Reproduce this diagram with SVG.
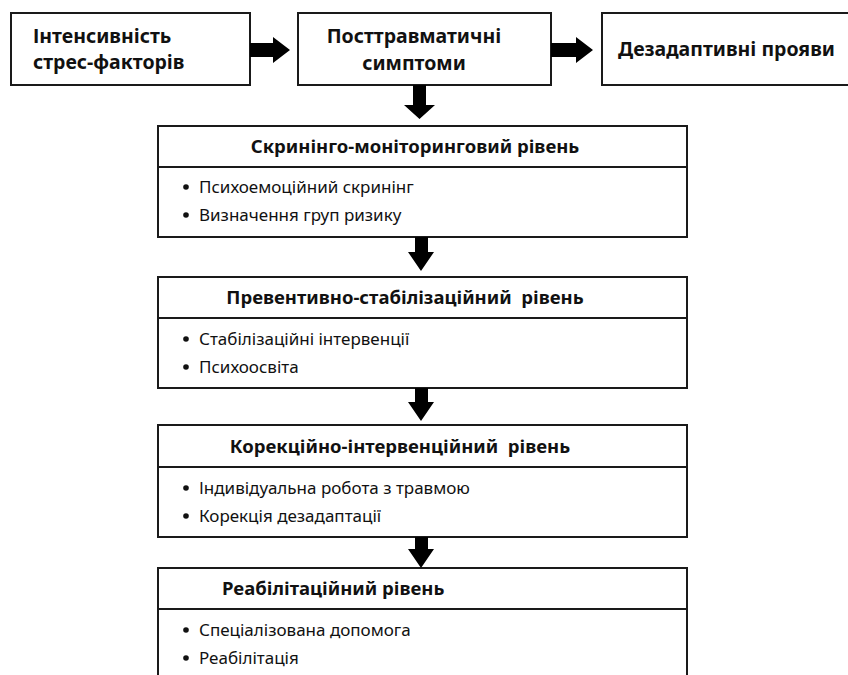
<svg xmlns="http://www.w3.org/2000/svg" width="848" height="675" viewBox="0 0 848 675">
<style>
.box{fill:#fff;stroke:#1a1a1a;stroke-width:2}
.ln{stroke:#1a1a1a;stroke-width:2}
.arr{fill:#000}
.b{fill:#111}
.top{font-family:"Noto Sans","Open Sans",sans-serif;font-weight:bold;font-size:19.5px;fill:#111}
.h{font-family:"Noto Sans","Open Sans",sans-serif;font-weight:bold;font-size:18.5px;fill:#111}
.t{font-family:"Noto Sans","Open Sans",sans-serif;font-size:17px;fill:#111}
</style>
<rect width="848" height="675" fill="#fff"/>
<g id="n1">
<rect class="box" x="11" y="13" width="239" height="72"/>
<text class="top" x="33" y="43">Інтенсивність</text>
<text class="top" x="33" y="69">стрес-факторів</text>
</g>
<g id="n2">
<rect class="box" x="298" y="13" width="253" height="72"/>
<text class="top" x="414" y="43" text-anchor="middle">Посттравматичні</text>
<text class="top" x="414" y="70" text-anchor="middle">симптоми</text>
</g>
<g id="n3">
<rect class="box" x="602" y="13" width="250" height="72"/>
<text class="top" x="618" y="56">Дезадаптивні прояви</text>
</g>
<g id="n4">
<rect class="box" x="158" y="126" width="529" height="111"/>
<line class="ln" x1="158" y1="167" x2="687" y2="167"/>
<text class="h" x="415" y="153" text-anchor="middle">Скринінго-моніторинговий рівень</text>
<circle class="b" cx="186" cy="187" r="2.8"/><text class="t" x="199" y="193">Психоемоційний скринінг</text>
<circle class="b" cx="186" cy="215" r="2.8"/><text class="t" x="199" y="221">Визначення груп ризику</text>
</g>
<g id="n5">
<rect class="box" x="158" y="277" width="529" height="111"/>
<line class="ln" x1="158" y1="318" x2="687" y2="318"/>
<text class="h" x="405" y="304" text-anchor="middle" xml:space="preserve">Превентивно-стабілізаційний  рівень</text>
<circle class="b" cx="186" cy="339" r="2.8"/><text class="t" x="199" y="345">Стабілізаційні інтервенції</text>
<circle class="b" cx="186" cy="367" r="2.8"/><text class="t" x="199" y="373">Психоосвіта</text>
</g>
<g id="n6">
<rect class="box" x="158" y="425" width="529" height="112"/>
<line class="ln" x1="158" y1="467" x2="687" y2="467"/>
<text class="h" x="400" y="453" text-anchor="middle" xml:space="preserve">Корекційно-інтервенційний  рівень</text>
<circle class="b" cx="186" cy="488" r="2.8"/><text class="t" x="199" y="494">Індивідуальна робота з травмою</text>
<circle class="b" cx="186" cy="516" r="2.8"/><text class="t" x="199" y="522">Корекція дезадаптації</text>
</g>
<g id="n7">
<rect class="box" x="158" y="568" width="529" height="120"/>
<line class="ln" x1="158" y1="609" x2="687" y2="609"/>
<text class="h" x="222" y="595">Реабілітаційний рівень</text>
<circle class="b" cx="186" cy="630" r="2.8"/><text class="t" x="199" y="636">Спеціалізована допомога</text>
<circle class="b" cx="186" cy="658" r="2.8"/><text class="t" x="199" y="664">Реабілітація</text>
</g>
<g id="connectors">
<polygon class="arr" points="250,43 273,43 273,37 290,50 273,63 273,57 250,57"/>
<polygon class="arr" points="551,43 576,43 576,37 593,50 576,63 576,57 551,57"/>
<polygon class="arr" points="413,85 426,85 426,105 435,105 419.5,119 404,105 413,105"/>
<polygon class="arr" points="415,237 428,237 428,252 434,252 421,271 408,252 415,252"/>
<polygon class="arr" points="415,388 428,388 428,402 434,402 421,421 408,402 415,402"/>
<polygon class="arr" points="415,537 428,537 428,549 434,549 421,568 408,549 415,549"/>
</g>
</svg>
